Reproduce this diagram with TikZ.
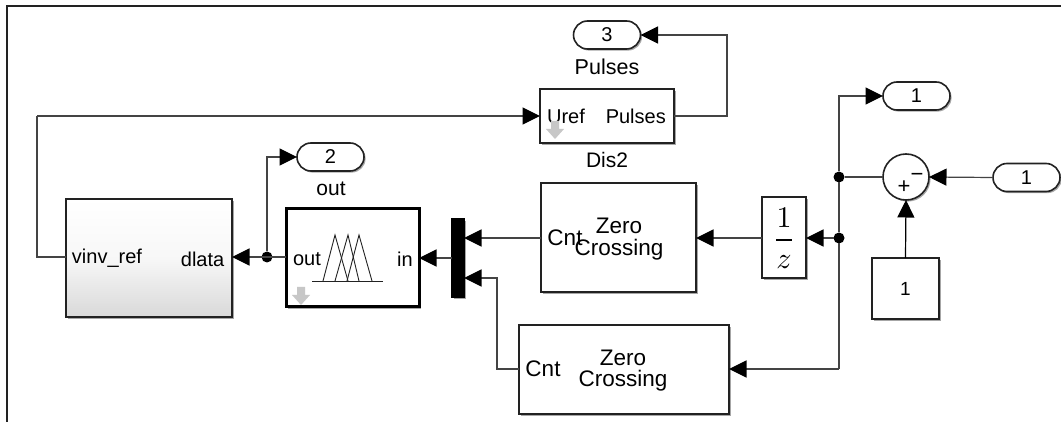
\documentclass[tikz,border=0pt]{standalone}
\usepackage{fontspec}
\usepackage{graphicx}
\setmainfont{Liberation Sans}
\usetikzlibrary{arrows.meta,shapes.misc,shadows,calc}
\definecolor{wirec}{HTML}{444444}
\definecolor{edgec}{HTML}{222222}
\tikzset{
  blk/.style={draw=edgec,line width=1.6pt,fill=white,inner sep=0pt,outer sep=0pt,
    drop shadow={shadow xshift=1.6pt,shadow yshift=-1.6pt,opacity=.35,fill=black}},
  port/.style={blk,rounded rectangle,minimum width=67pt,minimum height=28pt,font=\fontsize{20}{20}\selectfont},
  wire/.style={draw=wirec,line width=1.2pt},
  arr/.style={wire,-{Triangle[length=17.5pt,width=17pt,color=black]}},
  junc/.style={circle,fill=black,minimum size=11pt,inner sep=0pt,outer sep=0pt},
  lab/.style={inner sep=0pt,font=\fontsize{20}{20}\selectfont},
  big/.style={inner sep=0pt,font=\fontsize{22.5}{21.5}\selectfont,align=center},
  hint/.style={fill=black!22,draw=none}
}
\begin{document}
\begin{tikzpicture}[x=1pt,y=-1pt]
\useasboundingbox[fill=white] (0,0) rectangle (1061,422);
\draw[draw=edgec,line width=1.1pt] (7,422) -- (7,6) -- (1061,6);

% blocks
\node[blk,top color=white,bottom color=black!15,middle color=black!3,minimum width=166pt,minimum height=118pt] (vinv) at (149,258) {};
\node[blk,minimum width=133pt,minimum height=98pt] (fz) at (352.5,258) {};
\draw[draw=black,line width=3pt] (fz.north west) rectangle (fz.south east);
\node[blk,fill=black,draw=black,minimum width=12pt,minimum height=78pt] (mux) at (458,258) {};
\node[blk,minimum width=155pt,minimum height=109pt] (zc1) at (618.5,237.5) {};
\node[blk,minimum width=210pt,minimum height=89pt] (zc2) at (624,369.5) {};
\node[blk,minimum width=44pt,minimum height=81pt] (ud) at (784,237.5) {};
\node[blk,minimum width=134pt,minimum height=54pt] (dis) at (607,116) {};
\node[blk,minimum width=67pt,minimum height=61pt,font=\fontsize{19}{19}\selectfont] (k) at (905.5,288.5) {1};
\node[blk,circle,minimum size=46pt] (sum) at (906,177) {};
\node[port] (o3) at (607,35) {3};
\node[port] (o2) at (330.5,157) {2};
\node[port] (o1) at (916.5,96) {1};
\node[port] (in1) at (1026.5,177.5) {1};

% block labels
\node[lab] (tvinv) at (107,258) {vinv\_ref};
\node[lab,anchor=east] (tdlata) at (224.5,259) {dlata};
\node[lab] (tout) at (307,259) {out};
\node[lab] (tin) at (405,259) {in};
\node[lab] (turef) at (566,116) {Uref};
\node[lab,anchor=east] (tpul) at (666,116) {Pulses};
\node[big] (cnt1) at (565,238) {Cnt};
\node[big] (zt1) at (619,239) {Zero\\[0pt]Crossing};
\node[big] (cnt2) at (543,369) {Cnt};
\node[big] (zt2) at (623,370.5) {Zero\\[0pt]Crossing};
\node[lab,font=\fontsize{21}{21}\selectfont] (tlbl2) at (331,189) {out};
\node[lab,font=\fontsize{21.5}{21.5}\selectfont] (tlbl3) at (607,67) {Pulses};
\node[lab,font=\fontsize{21}{21}\selectfont] (tlbl4) at (607,160) {Dis2};
\node[inner sep=0pt] (frac) at (784,238) {\scalebox{3.0}{$\displaystyle\frac{1}{z}$}};
\node[inner sep=0pt,font=\fontsize{22}{22}\selectfont] (plus) at (904,187) {+};
\node[inner sep=0pt,font=\fontsize{22}{22}\selectfont] (minus) at (917,177) {−};

% membership functions
\draw[draw=edgec,line width=.9pt] (312,281) -- (383,281);
\draw[draw=edgec,line width=.9pt] (323,281) -- (335,235) -- (348,281);
\draw[draw=edgec,line width=.9pt] (335,281) -- (348,235) -- (359,281);
\draw[draw=edgec,line width=.9pt] (347,281) -- (359,235) -- (372,281);

% down arrows
\fill[hint] (297,287) -- (305,287) -- (305,295) -- (310,295) -- (301,305) -- (292,295) -- (297,295) -- cycle;
\fill[hint] (551,121) -- (559,121) -- (559,129) -- (564,129) -- (555,139) -- (546,129) -- (551,129) -- cycle;

% junctions
\node[junc] (j1) at (267,257) {};
\node[junc] (j2) at (839,238) {};
\node[junc] (j3) at (839,177) {};
\coordinate (c1) at (37,257);
\coordinate (c2) at (37,116);
\coordinate (c3) at (727,116);
\coordinate (c4) at (727,35);
\coordinate (c5) at (267,157);
\coordinate (c6) at (839,369);
\coordinate (c7) at (839,96);
\coordinate (c8) at (497,369);
\coordinate (c9) at (497,278);

% connectors
\draw[wire] (vinv.west |- c1) -- (c1) -- (c2);
\draw[arr] (c2) -- (dis.west |- c2);
\draw[arr] (dis.east) -- (c3) -- (c4) -- (o3.east);
\draw[arr] (fz.west |- j1) -- (vinv.east |- j1);
\draw[arr] (j1) -- (c5) -- (o2.west);
\draw[arr] (mux.west |- fz.east) -- (fz.east);
\draw[arr] (zc1.west |- j2) -- (mux.east |- j2);
\draw[arr] (zc2.west |- c8) -- (c8) -- (c9) -- (mux.east |- c9);
\draw[arr] (ud.west |- j2) -- (zc1.east |- j2);
\draw[arr] (j2) -- (ud.east |- j2);
\draw[arr] (c6) -- (zc2.east |- c6);
\draw[wire] (c6) -- (j2) -- (j3);
\draw[arr] (j3) -- (c7) -- (o1.west);
\draw[wire] (j3) -- (sum.west);
\draw[arr] (in1.west) -- (sum.east);
\draw[arr,draw=black] (k.north) -- (sum.south);
\end{tikzpicture}
\end{document}
